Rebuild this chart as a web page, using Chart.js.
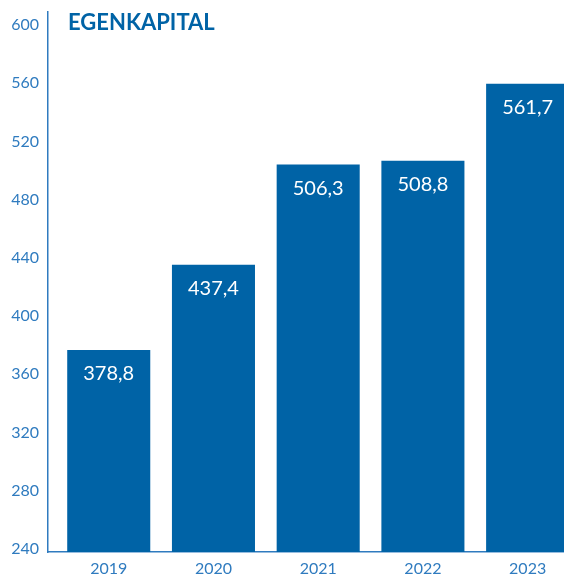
<!DOCTYPE html>
<html>
<head>
<meta charset="utf-8">
<script src="https://cdn.jsdelivr.net/npm/chart.js@4.4.1/dist/chart.umd.min.js"></script>
<style>
	html, body { margin: 0; padding: 0; background: #ffffff; overflow: hidden; }
	#wrap { width: 564px; height: 576px; overflow: hidden; position: relative; }
	#mycanvas { display: block; }
</style>
</head>
<body>
<div id="wrap">
	<canvas id="mycanvas" width="580" height="576" style="width:580px;height:576px"></canvas>
</div>
<script>
var years = [2019, 2020, 2021, 2022, 2023];
var equity = [378.8, 437.4, 506.3, 508.8, 561.7];
var yTicks = [240, 280, 320, 360, 400, 440, 480, 520, 560, 600];
var titleText = "EGENKAPITAL";

var barColor = "#0063a6";
var axisColor = "#2f7bbf";
var fontName = "Lato, 'Open Sans', sans-serif";

function label(v) {
	return v.toFixed(1).replace(".", ",");
}

var points = [];
for (var i in years) {
	points.push({ x: years[i], y: equity[i] });
}

// writes the values inside the bars and the heading
var barLabels = {
	id: "barLabels",
	afterDatasetsDraw: function(chart) {
		var ctx = chart.ctx;
		var meta = chart.getDatasetMeta(0);
		ctx.save();
		ctx.fillStyle = "#ffffff";
		ctx.font = "20px " + fontName;
		ctx.textAlign = "center";
		ctx.textBaseline = "middle";
		for (var i = 0; i < meta.data.length; i++) {
			var bar = meta.data[i];
			ctx.fillText(label(equity[i]), bar.x, bar.y + 24);
		}
		ctx.fillStyle = barColor;
		ctx.font = "bold 22px " + fontName;
		ctx.textAlign = "left";
		ctx.fillText(titleText, 68, 23);
		ctx.restore();
	}
};

var ctx = document.getElementById("mycanvas");

var barGraph = new Chart(ctx, {
	type: "bar",
	data: {
		datasets: [
			{
				label: titleText,
				data: points,
				backgroundColor: barColor,
				borderWidth: 0,
				barPercentage: 0.793,
				categoryPercentage: 1
			}
		]
	},
	options: {
		responsive: false,
		animation: false,
		layout: { padding: { top: 12, right: 0, bottom: 0, left: 0 } },
		plugins: {
			legend: { display: false },
			tooltip: { enabled: false }
		},
		scales: {
			x: {
				type: "linear",
				offset: false,
				min: 2018.42,
				max: 2023.5,
				grid: { display: false, drawTicks: false },
				border: { color: axisColor, width: 1.5 },
				afterBuildTicks: function(scale) {
					scale.ticks = years.map(function(y) { return { value: y }; });
				},
				afterFit: function(scale) {
					scale.height = 24;
					scale.paddingLeft = 0;
					scale.paddingRight = 0;
				},
				ticks: {
					color: axisColor,
					font: { family: fontName, size: 16 },
					padding: 7,
					callback: function(v) { return String(v); }
				}
			},
			y: {
				min: 240,
				max: 611,
				grid: { display: false, drawTicks: false },
				border: { color: axisColor, width: 1.5 },
				afterBuildTicks: function(scale) {
					scale.ticks = yTicks.map(function(v) { return { value: v }; });
				},
				afterFit: function(scale) {
					scale.width = 48;
					scale.paddingTop = 0;
					scale.paddingBottom = 0;
				},
				ticks: {
					color: axisColor,
					font: { family: fontName, size: 16 },
					padding: 9,
					labelOffset: -3,
					callback: function(v) { return String(v); }
				}
			}
		}
	},
	plugins: [barLabels]
});
</script>
</body>
</html>
